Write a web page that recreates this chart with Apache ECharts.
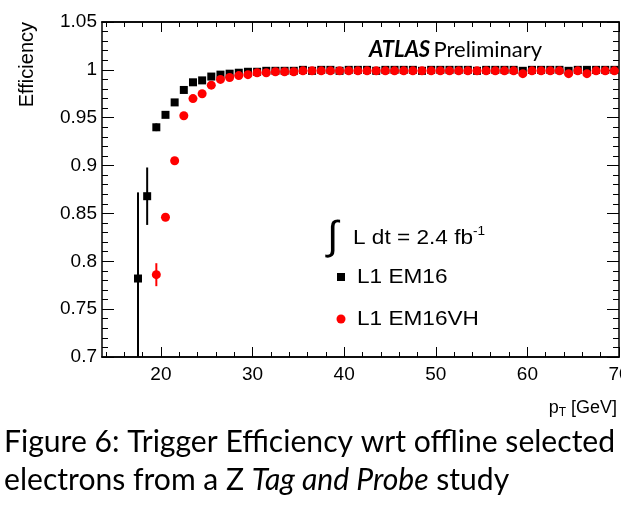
<!DOCTYPE html>
<html>
<head>
<meta charset="utf-8">
<script src="https://cdn.jsdelivr.net/npm/echarts@6/dist/echarts.min.js"></script>
<style>
  html, body { margin: 0; padding: 0; background: #fff; }
  #chart { width: 621px; height: 529px; }
</style>
</head>
<body>
<div id="chart"></div>
<script>
// pT bin centres [GeV]
const ptEM16 = [17.5, 18.5, 19.5, 20.5, 21.5, 22.5, 23.5, 24.5, 25.5, 26.5, 27.5, 28.5, 29.5,
  30.5, 31.5, 32.5, 33.5, 34.5, 35.5, 36.5, 37.5, 38.5, 39.5, 40.5, 41.5, 42.5, 43.5, 44.5,
  45.5, 46.5, 47.5, 48.5, 49.5, 50.5, 51.5, 52.5, 53.5, 54.5, 55.5, 56.5, 57.5, 58.5, 59.5,
  60.5, 61.5, 62.5, 63.5, 64.5, 65.5, 66.5, 67.5, 68.5, 69.5];
const effEM16 = [0.782, 0.868, 0.940, 0.953, 0.966, 0.979, 0.987, 0.989, 0.993, 0.995, 0.996, 0.997, 0.998,
  0.998, 0.999, 0.999, 0.999, 0.999, 1.000, 0.999, 1.000, 1.000, 0.999, 1.000, 1.000, 1.000, 0.999, 1.000,
  1.000, 1.000, 1.000, 0.999, 1.000, 1.000, 1.000, 1.000, 1.000, 0.999, 1.000, 1.000, 1.000, 1.000, 0.999,
  1.000, 1.000, 1.000, 1.000, 0.999, 1.000, 1.000, 1.000, 1.000, 1.000];
const errEM16 = [0.090, 0.030, 0.004, 0.003, 0.002, 0.002, 0.001, 0.001, 0.001, 0.001, 0.001, 0.001, 0.001,
  0.001, 0.001, 0.001, 0.001, 0.001, 0.001, 0.001, 0.001, 0.001, 0.001, 0.001, 0.001, 0.001, 0.001, 0.001,
  0.001, 0.001, 0.001, 0.001, 0.001, 0.001, 0.001, 0.001, 0.001, 0.001, 0.001, 0.001, 0.001, 0.001, 0.001,
  0.001, 0.001, 0.001, 0.001, 0.001, 0.001, 0.001, 0.001, 0.001, 0.001];

const ptEM16VH = [19.5, 20.5, 21.5, 22.5, 23.5, 24.5, 25.5, 26.5, 27.5, 28.5, 29.5,
  30.5, 31.5, 32.5, 33.5, 34.5, 35.5, 36.5, 37.5, 38.5, 39.5, 40.5, 41.5, 42.5, 43.5, 44.5,
  45.5, 46.5, 47.5, 48.5, 49.5, 50.5, 51.5, 52.5, 53.5, 54.5, 55.5, 56.5, 57.5, 58.5, 59.5,
  60.5, 61.5, 62.5, 63.5, 64.5, 65.5, 66.5, 67.5, 68.5, 69.5];
const effEM16VH = [0.786, 0.846, 0.905, 0.952, 0.970, 0.975, 0.984, 0.990, 0.992, 0.994, 0.995,
  0.997, 0.997, 0.998, 0.998, 0.998, 0.999, 0.999, 0.999, 0.999, 0.999, 0.999, 0.999, 0.999, 0.999, 0.999,
  0.999, 0.999, 0.999, 0.999, 0.999, 0.999, 0.999, 0.999, 0.999, 0.999, 0.999, 0.999, 0.999, 0.999, 0.996,
  0.999, 0.999, 0.999, 0.999, 0.996, 0.999, 0.996, 0.999, 0.999, 0.999];
const errEM16VH = [0.012, 0.004, 0.003, 0.002, 0.002, 0.001, 0.001, 0.001, 0.001, 0.001, 0.001,
  0.001, 0.001, 0.001, 0.001, 0.001, 0.001, 0.001, 0.001, 0.001, 0.001, 0.001, 0.001, 0.001, 0.001, 0.001,
  0.001, 0.001, 0.001, 0.001, 0.001, 0.001, 0.001, 0.001, 0.001, 0.001, 0.001, 0.001, 0.001, 0.001, 0.001,
  0.001, 0.001, 0.001, 0.001, 0.001, 0.001, 0.001, 0.001, 0.001, 0.001];

// axis ticks
const xMajorTicks = [20, 30, 40, 50, 60, 70];
const xMinorTicks = [14, 16, 18, 22, 24, 26, 28, 32, 34, 36, 38, 42, 44, 46, 48, 52, 54, 56, 58, 62, 64, 66, 68];

const seriesNames = ['L1 EM16', 'L1 EM16VH'];
const captionLine1 = 'Figure 6: Trigger Efficiency wrt offline selected';

const SANS = '"Liberation Sans", Arial, Helvetica, sans-serif';
const CAP = 'Lato, "Open Sans", sans-serif';
const X_MIN = 13.57, X_MAX = 70;
const RED = '#ff0000';

const chart = echarts.init(document.getElementById('chart'));

// fit the caption font to the width of the first line
const ctx = document.createElement('canvas').getContext('2d');
ctx.font = '24px Lato';
const capSize = Math.round(24 * 612 / ctx.measureText(captionLine1).width * 10) / 10;

const errorBar = (params, api) => {
  const x = api.value(0), y = api.value(1), e = api.value(2);
  const cs = params.coordSys;
  const hi = api.coord([x, y + e]);
  const lo = api.coord([x, y - e]);
  return {
    type: 'line',
    shape: {
      x1: hi[0], y1: Math.max(hi[1], cs.y),
      x2: lo[0], y2: Math.min(lo[1], cs.y + cs.height),
    },
    style: { stroke: api.visual('color'), lineWidth: 2 },
  };
};

const axisLine = { show: true, lineStyle: { color: '#000', width: 1.5 } };

const xAxisBase = (position, ticks, len, labels) => ({
  type: 'value',
  position,
  min: X_MIN,
  max: X_MAX,
  axisLine,
  splitLine: { show: false },
  axisTick: { show: true, inside: true, length: len, customValues: ticks, lineStyle: { color: '#000', width: 1 } },
  axisLabel: labels
    ? { show: true, customValues: ticks, margin: 8, fontSize: 19, fontFamily: SANS, color: '#000' }
    : { show: false },
});

const yAxisBase = (position, labels) => ({
  type: 'value',
  position,
  min: 0.7,
  max: 1.05,
  interval: 0.05,
  axisLine,
  splitLine: { show: false },
  axisTick: { show: true, inside: true, length: 12, lineStyle: { color: '#000', width: 1 } },
  minorTick: { show: true, splitNumber: 5, length: 6, lineStyle: { color: '#000', width: 1 } },
  axisLabel: labels
    ? { show: true, margin: 5, fontSize: 19, fontFamily: SANS, color: '#000',
        formatter: v => String(+v.toFixed(2)) }
    : { show: false },
});

// ROOT-style text is a bit wider than Liberation Sans
const wideText = (x, y, text, extra) => ({
  type: 'text', x, y, scaleX: 1.13,
  style: Object.assign({ text, font: `20px ${SANS}`, fill: '#000', verticalAlign: 'middle' }, extra || {}),
});

const option = {
  animation: false,
  backgroundColor: '#fff',
  grid: { left: 102, right: 2, top: 22, bottom: 172, outerBoundsMode: 'none', containLabel: false },
  xAxis: [
    xAxisBase('bottom', xMajorTicks, 10, true),
    xAxisBase('bottom', xMinorTicks, 5, false),
    xAxisBase('top', xMajorTicks, 10, false),
    xAxisBase('top', xMinorTicks, 5, false),
  ],
  yAxis: [yAxisBase('left', true), yAxisBase('right', false)],
  series: [
    {
      name: seriesNames[0],
      type: 'custom',
      renderItem: errorBar,
      itemStyle: { color: '#000' },
      data: ptEM16.map((x, i) => [x, effEM16[i], errEM16[i]]),
      z: 2,
    },
    {
      name: seriesNames[1],
      type: 'custom',
      renderItem: errorBar,
      itemStyle: { color: RED },
      data: ptEM16VH.map((x, i) => [x, effEM16VH[i], errEM16VH[i]]),
      z: 2,
    },
    {
      name: seriesNames[0],
      type: 'scatter',
      symbol: 'rect',
      symbolSize: 8,
      itemStyle: { color: '#000', opacity: 1 },
      data: ptEM16.map((x, i) => [x, effEM16[i]]),
      z: 3,
    },
    {
      name: seriesNames[1],
      type: 'scatter',
      symbol: 'circle',
      symbolSize: 9,
      itemStyle: { color: RED, opacity: 1 },
      data: ptEM16VH.map((x, i) => [x, effEM16VH[i]]),
      z: 4,
    },
  ],
  graphic: [
    {
      type: 'text', x: 27, y: 22, rotation: Math.PI / 2,
      style: { text: 'Efficiency', font: `20px ${SANS}`, fill: '#000', align: 'right', verticalAlign: 'middle' },
    },
    {
      type: 'text', x: 617, y: 408,
      style: {
        text: 'p{s|T} [GeV]', align: 'right', verticalAlign: 'middle', fill: '#000',
        font: `18px ${SANS}`,
        rich: { s: { fontSize: 12, fontFamily: SANS, verticalAlign: 'bottom', padding: [10, 0, 0, 0] } },
      },
    },
    {
      type: 'text', x: 369, y: 50,
      style: {
        text: '{b|ATLAS} {n|Preliminary}', verticalAlign: 'middle', fill: '#000',
        rich: {
          b: { fontFamily: CAP, fontSize: 22, fontWeight: 'bold', fontStyle: 'italic', fill: '#000' },
          n: { fontFamily: CAP, fontSize: 22, fill: '#000' },
        },
      },
    },
    {
      type: 'text', x: 327, y: 238,
      style: { text: '\u222B', font: `40px ${SANS}`, fill: '#000', align: 'left', verticalAlign: 'middle' },
    },
    wideText(353, 238, '{a|L dt = 2.4 fb}{s|-1}', {
      font: undefined,
      rich: {
        a: { fontFamily: SANS, fontSize: 20, lineHeight: 24, fill: '#000' },
        s: { fontFamily: SANS, fontSize: 12, lineHeight: 24, verticalAlign: 'top', fill: '#000' },
      },
    }),
    // legend
    { type: 'rect', shape: { x: 337, y: 273, width: 8, height: 8 }, style: { fill: '#000' } },
    wideText(357, 277, seriesNames[0]),
    { type: 'circle', shape: { cx: 341, cy: 319, r: 4.5 }, style: { fill: RED } },
    wideText(357, 319, seriesNames[1]),
    // caption
    {
      type: 'text', x: 4, y: 442,
      style: { text: captionLine1, font: `${capSize}px ${CAP}`, fill: '#000', verticalAlign: 'middle' },
    },
    {
      type: 'text', x: 4, y: 480,
      style: {
        text: 'electrons from a Z {i|Tag and Probe} study', verticalAlign: 'middle', fill: '#000',
        font: `${capSize}px ${CAP}`,
        rich: { i: { fontFamily: CAP, fontSize: capSize, fontStyle: 'italic', fill: '#000' } },
      },
    },
  ],
};

chart.setOption(option);
</script>
</body>
</html>
